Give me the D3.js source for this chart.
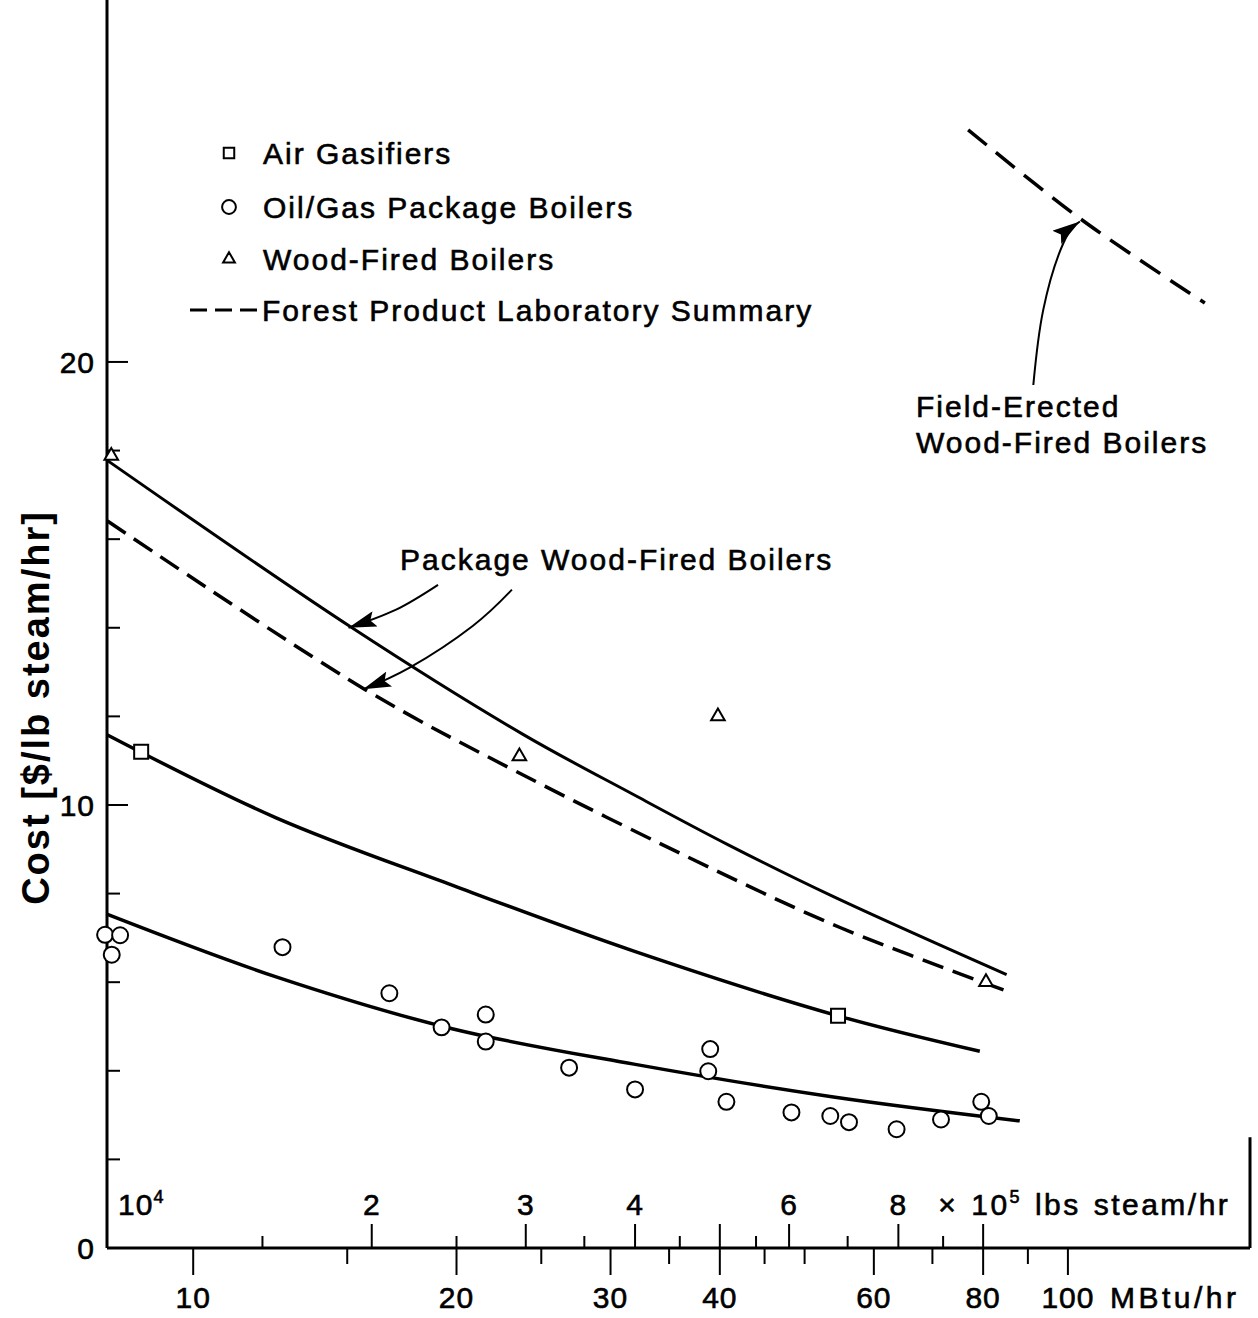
<!DOCTYPE html>
<html lang="en">
<head>
<meta charset="UTF-8">
<title>Boiler Cost vs Capacity</title>
<script src="https://d3js.org/d3.v7.min.js"></script>
<style>
  body { margin: 0; background: #fff; }
  svg { display: block; background: #fff; }
  text { font-family: "Liberation Sans", Arial, sans-serif; fill: #000; }
  .lbl { font-size: 30px; letter-spacing: 2px; stroke: #000; stroke-width: 0.6px; }
  .tick-lbl { font-size: 30px; letter-spacing: 1px; stroke: #000; stroke-width: 0.6px; }
  .unit-lbl { font-size: 30px; letter-spacing: 3.5px; word-spacing: 4px; stroke: #000; stroke-width: 0.6px; }
  .unit-top { font-size: 30px; letter-spacing: 2.5px; word-spacing: 2px; stroke: #000; stroke-width: 0.6px; }
  .ylabel { font-size: 38px; font-weight: bold; letter-spacing: 2px; }
</style>
</head>
<body>
<svg id="chart" width="1258" height="1318"></svg>
<script>
// fitted curves, [MBtu/hr, $ per lb steam/hr]
const woodFiredFit   = [[7.96,17.79],[15.19,14.0],[23.8,11.6],[31.9,10.23],[40.9,9.1],[53.95,7.93],[85.1,6.17]];
const fplSummary     = [[7.98,16.41],[15.68,12.62],[23.44,10.75],[39.6,8.52],[54.8,7.24],[85.1,5.8]];
const airGasifierFit = [[7.98,11.58],[12.44,9.71],[19.77,8.19],[31.9,6.7],[54.6,5.24],[79.3,4.44]];
const oilGasFit      = [[7.98,7.53],[12.44,6.12],[19.77,4.95],[31.9,4.15],[53.95,3.41],[88.1,2.87]];
const fieldErected   = [[76.9,25.24],[103.7,23.21],[143.4,21.33]];

// data points
const airGasifiers = [[8.72,11.2],[54.6,5.24]];
const woodFired    = [[8.06,17.88],[23.6,11.1],[39.8,12.0],[80.6,6.0]];
const oilGas = [[7.93,7.07],[8.25,7.06],[8.07,6.62],[12.65,6.79],[16.76,5.75],[19.23,4.98],
  [21.6,5.27],[21.6,4.66],[26.9,4.07],[32.0,3.58],[39.0,4.49],[38.8,3.99],[40.7,3.3],
  [48.3,3.06],[53.5,2.98],[56.2,2.84],[63.7,2.68],[71.6,2.9],[79.6,3.3],[81.2,2.98]];

// annotation arrows (data units)
const arrowSolid  = [[19.05,14.97],[17.06,14.41],[15.05,14.0]];
const arrowDashed = [[23.14,14.86],[20.87,14.04],[17.68,13.1],[15.64,12.61]];
const arrowField  = [[91.3,19.48],[93.7,21.17],[98.8,22.68],[103.2,23.17]];

// ticks
const yMajor = [0, 10, 20];
const yMinor = [2, 4, 6, 8, 12, 14, 16, 18];
const mbtuMajor = [10, 20, 30, 40, 60, 80, 100];
const mbtuMinor = [15, 25, 35, 45, 50, 70, 90];
const lbsMajor = [2, 3, 4, 5, 6, 8, 10];      // x 10^5 lbs steam/hr
const lbsMinor = [1.5, 2.5, 3.5, 4.5, 5.5, 7, 9];
const lbsLabels = [2, 3, 4, 6, 8];
const lbsPerMBtu = 12500;

const svg = d3.select("#chart");
const x = d3.scaleLog().domain([7.97, 161.5]).range([107, 1250]);
const y = d3.scaleLinear().domain([0, 28.17]).range([1248, 0]);
const lx = v => x(v * 1e5 / lbsPerMBtu);

// arrow head
svg.append("defs").append("marker")
  .attr("id", "head")
  .attr("markerUnits", "userSpaceOnUse")
  .attr("markerWidth", 30).attr("markerHeight", 16)
  .attr("refX", 28).attr("refY", 8)
  .attr("orient", "auto")
  .append("path").attr("d", "M0,0 L28,8 L0,16 L5,8 Z").attr("fill", "#000");

// axes frame
svg.append("line").attr("x1", x.range()[0]).attr("x2", x.range()[0])
  .attr("y1", y(0)).attr("y2", 0).attr("stroke", "#000").attr("stroke-width", 3);
svg.append("line").attr("x1", x.range()[0]).attr("x2", x.range()[1])
  .attr("y1", y(0)).attr("y2", y(0)).attr("stroke", "#000").attr("stroke-width", 3);
svg.append("line").attr("x1", x.range()[1]).attr("x2", x.range()[1])
  .attr("y1", y(0)).attr("y2", y(2.5)).attr("stroke", "#000").attr("stroke-width", 3);

// y ticks (inward)
svg.selectAll(".ymaj").data(yMajor.filter(d => d > 0)).enter().append("line")
  .attr("x1", 107).attr("x2", 128).attr("y1", d => y(d)).attr("y2", d => y(d))
  .attr("stroke", "#000").attr("stroke-width", 2);
svg.selectAll(".ymin").data(yMinor).enter().append("line")
  .attr("x1", 107).attr("x2", 120).attr("y1", d => y(d)).attr("y2", d => y(d))
  .attr("stroke", "#000").attr("stroke-width", 2);
svg.selectAll(".ylab").data(yMajor).enter().append("text")
  .attr("class", "tick-lbl")
  .attr("x", 95).attr("y", d => y(d) + 11)
  .attr("text-anchor", "end")
  .text(d => d);

// bottom MBtu ticks (downward)
svg.selectAll(".xmaj").data(mbtuMajor).enter().append("line")
  .attr("x1", d => x(d)).attr("x2", d => x(d)).attr("y1", y(0)).attr("y2", y(0) + 27)
  .attr("stroke", "#000").attr("stroke-width", 2);
svg.selectAll(".xmin").data(mbtuMinor).enter().append("line")
  .attr("x1", d => x(d)).attr("x2", d => x(d)).attr("y1", y(0)).attr("y2", y(0) + 16)
  .attr("stroke", "#000").attr("stroke-width", 2);
svg.selectAll(".xlab").data(mbtuMajor).enter().append("text")
  .attr("class", "tick-lbl")
  .attr("x", d => x(d)).attr("y", 1308)
  .attr("text-anchor", "middle")
  .text(d => d);
svg.append("text").attr("class", "unit-lbl")
  .attr("x", x(100) + 42).attr("y", 1308)
  .text("MBtu/hr");

// top lbs steam ticks (upward)
svg.selectAll(".lmaj").data(lbsMajor).enter().append("line")
  .attr("x1", d => lx(d)).attr("x2", d => lx(d)).attr("y1", y(0)).attr("y2", y(0) - 24)
  .attr("stroke", "#000").attr("stroke-width", 2);
svg.selectAll(".lmin").data(lbsMinor).enter().append("line")
  .attr("x1", d => lx(d)).attr("x2", d => lx(d)).attr("y1", y(0)).attr("y2", y(0) - 12)
  .attr("stroke", "#000").attr("stroke-width", 2);
svg.selectAll(".llab").data(lbsLabels).enter().append("text")
  .attr("class", "tick-lbl")
  .attr("x", d => lx(d)).attr("y", 1215)
  .attr("text-anchor", "middle")
  .text(d => d);
const t4 = svg.append("text").attr("class", "tick-lbl").attr("x", 118).attr("y", 1215);
t4.append("tspan").text("10");
t4.append("tspan").attr("dy", -12).style("font-size", "18px").text("4");
const t5 = svg.append("text").attr("class", "unit-top").attr("x", lx(8) + 40).attr("y", 1215);
t5.append("tspan").text("\u00d7 10");
t5.append("tspan").attr("dy", -12).style("font-size", "18px").text("5");
t5.append("tspan").attr("dy", 12).text(" lbs steam/hr");

// y axis title
svg.append("text").attr("class", "ylabel")
  .attr("transform", `translate(49, ${y(12.2)}) rotate(-90)`)
  .attr("text-anchor", "middle")
  .text("Cost [$/lb steam/hr]");

// curves
const line = d3.line().x(d => x(d[0])).y(d => y(d[1])).curve(d3.curveCatmullRom);
svg.append("path").attr("d", line(woodFiredFit))
  .attr("fill", "none").attr("stroke", "#000").attr("stroke-width", 3);
svg.append("path").attr("d", line(fplSummary))
  .attr("fill", "none").attr("stroke", "#000").attr("stroke-width", 3.5)
  .attr("stroke-dasharray", "22 10");
svg.append("path").attr("d", line(airGasifierFit))
  .attr("fill", "none").attr("stroke", "#000").attr("stroke-width", 3.5);
svg.append("path").attr("d", line(oilGasFit))
  .attr("fill", "none").attr("stroke", "#000").attr("stroke-width", 3.5);
svg.append("path").attr("d", line(fieldErected))
  .attr("fill", "none").attr("stroke", "#000").attr("stroke-width", 3.5)
  .attr("stroke-dasharray", "24 12");

// arrows
const arrowLine = d3.line().x(d => x(d[0])).y(d => y(d[1])).curve(d3.curveNatural);
[arrowSolid, arrowDashed, arrowField].forEach(a => {
  svg.append("path").attr("d", arrowLine(a))
    .attr("fill", "none").attr("stroke", "#000").attr("stroke-width", 2)
    .attr("marker-end", "url(#head)");
});

// markers
const sym = (type, size) => d3.symbol().type(type).size(size)();
svg.selectAll(".oil").data(oilGas).enter().append("path")
  .attr("transform", d => `translate(${x(d[0])},${y(d[1])})`)
  .attr("d", sym(d3.symbolCircle, 200))
  .attr("fill", "#fff").attr("stroke", "#000").attr("stroke-width", 2);
svg.selectAll(".air").data(airGasifiers).enter().append("path")
  .attr("transform", d => `translate(${x(d[0])},${y(d[1])})`)
  .attr("d", sym(d3.symbolSquare, 196))
  .attr("fill", "#fff").attr("stroke", "#000").attr("stroke-width", 2);
svg.selectAll(".wood").data(woodFired).enter().append("path")
  .attr("transform", d => `translate(${x(d[0])},${y(d[1])})`)
  .attr("d", sym(d3.symbolTriangle, 80))
  .attr("fill", "#fff").attr("stroke", "#000").attr("stroke-width", 2);

// legend
const legend = svg.append("g");
const rows = [
  { type: d3.symbolSquare, size: 110, label: "Air Gasifiers", y: 153 },
  { type: d3.symbolCircle, size: 150, label: "Oil/Gas Package Boilers", y: 207 },
  { type: d3.symbolTriangle, size: 60, label: "Wood-Fired Boilers", y: 259 }
];
rows.forEach(r => {
  legend.append("path")
    .attr("transform", `translate(229,${r.y})`)
    .attr("d", sym(r.type, r.size))
    .attr("fill", "#fff").attr("stroke", "#000").attr("stroke-width", 2);
  legend.append("text").attr("class", "lbl").attr("x", 263).attr("y", r.y + 11).text(r.label);
});
legend.append("line").attr("x1", 190).attr("x2", 258).attr("y1", 310).attr("y2", 310)
  .attr("stroke", "#000").attr("stroke-width", 3).attr("stroke-dasharray", "17 8");
legend.append("text").attr("class", "lbl").attr("x", 262).attr("y", 321)
  .text("Forest Product Laboratory Summary");

// annotations
svg.append("text").attr("class", "lbl").attr("x", 400).attr("y", 570)
  .text("Package Wood-Fired Boilers");
svg.append("text").attr("class", "lbl").attr("x", 916).attr("y", 417).text("Field-Erected");
svg.append("text").attr("class", "lbl").attr("x", 916).attr("y", 453).text("Wood-Fired Boilers");
</script>
</body>
</html>
